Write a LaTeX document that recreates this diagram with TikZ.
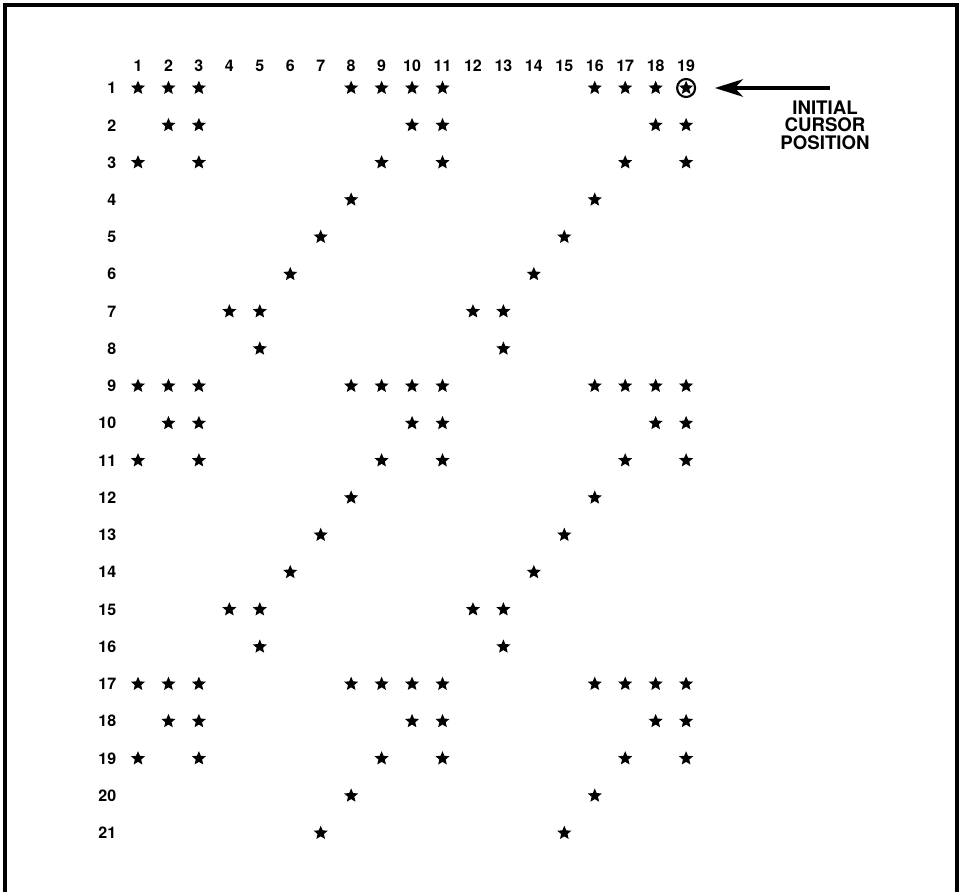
\documentclass[tikz,border=0pt]{standalone}
\usepackage{fontspec}
\setmainfont{TeX Gyre Heros}
\usetikzlibrary{arrows.meta,shapes.geometric}

\tikzset{
  gridstar/.style={star, star points=5, star point ratio=2.2, fill=black, inner sep=0pt, minimum size=11pt},
  colnum/.style={font=\bfseries\fontsize{12}{12}\selectfont},
  rownum/.style={font=\bfseries\fontsize{12}{12}\selectfont, anchor=east},
}

\begin{document}
\begin{tikzpicture}[x=0.75pt,y=-0.75pt]
  \useasboundingbox (0,0) rectangle (959,892);
  \draw[line width=2.4pt] (5,892) -- (5,5) -- (957,5) -- (957,892);

  % column and row numbers
  \foreach \c in {1,...,19}
    \node[colnum] (col\c) at ({138+(\c-1)*30.45},66) {\c};
  \foreach \r in {1,...,21}
    \node[rownum] (row\r) at (121,{88+(\r-1)*37.25}) {\r};

  % the stars, row by row
  \foreach \r/\cols in {1/{1,2,3,8,9,10,11,16,17,18,19}, 2/{2,3,10,11,18,19},
      3/{1,3,9,11,17,19}, 4/{8,16}, 5/{7,15}, 6/{6,14}, 7/{4,5,12,13}, 8/{5,13},
      9/{1,2,3,8,9,10,11,16,17,18,19}, 10/{2,3,10,11,18,19},
      11/{1,3,9,11,17,19}, 12/{8,16}, 13/{7,15}, 14/{6,14}, 15/{4,5,12,13}, 16/{5,13},
      17/{1,2,3,8,9,10,11,16,17,18,19}, 18/{2,3,10,11,18,19},
      19/{1,3,9,11,17,19}, 20/{8,16}, 21/{7,15}}
    \foreach \c in \cols
      \node[gridstar] (s\r-\c) at ({138+(\c-1)*30.45},{88+(\r-1)*37.25}) {};

  % initial cursor
  \node[draw, circle, line width=1.6pt, minimum size=13.5pt, inner sep=0pt] (cursor) at (s1-19) {};
  \coordinate (arrowtail) at (830,88);
  \draw[line width=3pt, -{Stealth[length=21pt,width=13pt,inset=6pt]}] (arrowtail) -- ([xshift=14pt]cursor.east);
  \node[align=center, font=\bfseries\fontsize{14}{13.2}\selectfont] (cursorlabel) at (825,125) {INITIAL\\CURSOR\\POSITION};
\end{tikzpicture}
\end{document}
